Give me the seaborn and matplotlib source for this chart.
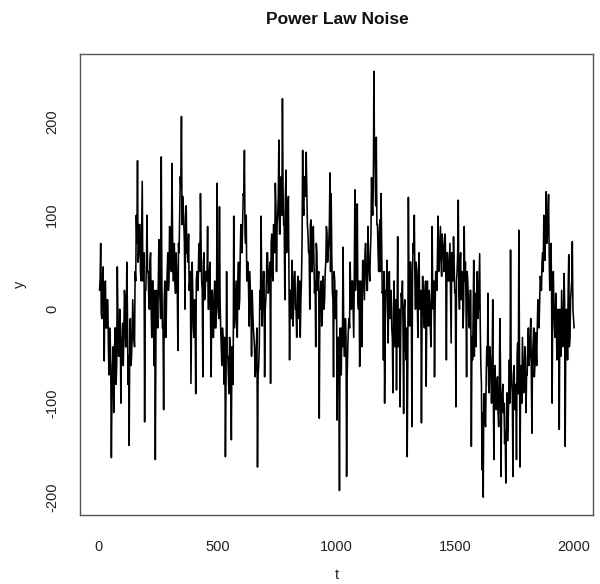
import numpy as np
import pandas as pd
import matplotlib
matplotlib.use("Agg")
import matplotlib.pyplot as plt
import seaborn as sns

# ---- data ----
# "values": readings every 5 time steps (incl. the spikes),
# "core": readings of the dense core band, half-way between them.
step = 5
values = [
    20, 70, -10, 45, -55, 30, -20, 10, -70, -30,
    -158, -60, -110, -20, -80, 45, -50, 0, -100, -30,
    -60, 20, -40, 50, -80, -145, -10, -50, 10, -30,
    40, 100, 158, 60, 90, 30, 136, 50, -120, 20,
    100, 40, 0, 60, -30, 30, -60, -160, 20, -20,
    74, 10, 162, -20, -107, 30, -30, 40, 20, 88,
    50, 155, 30, 70, 17, 40, -44, 60, 141, 205,
    120, 90, 0, 110, 60, 80, 30, -79, 50, -20,
    10, -90, 40, 20, 70, 123, 30, -72, 60, 20,
    40, 88, 0, 50, -72, 20, -30, 30, -20, 134,
    0, 109, -20, -60, -30, -80, -157, 40, -50, -90,
    -40, -139, -70, 99, -10, 30, -30, 50, 10, 90,
    60, 123, 169, 70, 30, 50, -18, 20, -50, 0,
    -30, -72, -40, -168, -60, 20, 99, -18, 40, -72,
    10, 60, 17, 40, -79, 80, 30, 88, 134, 40,
    100, 180, 80, 141, 224, 90, 10, 148, 70, 120,
    -54, 20, 52, -18, 40, 0, -30, 35, 10, -30,
    30, 169, 100, 141, 167, 90, 60, 0, 95, 40,
    88, 17, -40, 60, 30, -116, 20, -18, 35, 0,
    40, 88, 50, 70, 145, 123, 20, -72, 30, 0,
    -118, -30, -193, -60, -20, 66, -50, -10, -178, -40,
    -10, 50, 0, 30, -30, 127, 40, 112, 0, -61,
    30, -40, 52, 10, 70, 20, 88, 40, 60, 140,
    100, 253, 160, 183, 90, 40, 95, 123, 17, -54,
    -100, 20, 52, -36, 40, 0, -20, -89, 30, -10,
    -86, 77, -20, -104, 17, 30, -111, 10, -54, -157,
    119, -18, 50, -125, 70, 100, 0, 40, -30, 60,
    10, -121, 35, -10, 20, -82, 30, -18, 10, -40,
    88, 0, -72, 40, 20, 99, 50, 88, 35, 70,
    40, 80, -54, 60, 30, 70, -36, 50, 77, 17,
    -104, 40, 116, 0, 60, 20, -20, 88, 50, -72,
    30, -18, 20, -146, -54, 52, 17, -40, 40, 0,
    59, -60, -171, -200, -90, -125, -40, 17, -89, -50,
    -100, 10, -160, -60, -107, -72, -125, -10, -178, -90,
    -110, -143, -185, -89, -120, -54, 63, -80, -178, -60,
    -107, -160, -36, 84, -168, -60, -30, -89, -40, -110,
    -70, -20, -50, -10, -132, -36, -72, -25, -60, 10,
    -20, 35, 20, 60, 100, 52, 125, 80, 122, 20,
    70, -100, 40, -20, 17, -54, 0, -128, -30, 20,
    -40, 38, -146, 0, -54, 58, -30, 20, 72, -10,
]
core = [
    30, -5, 35, 0, 25, -20, 10, -40, -20, -60,
    -90, -40, -70, -20, -60, -10, -50, -20, -45, -15,
    -30, 10, -40, 0, -50, -20, -60, -30, -10, -40,
    30, 70, 50, 90, 40, 80, 30, 60, 20, 50,
    40, 10, 50, 0, 30, -20, 20, -30, 10, 30,
    20, -10, 30, -20, 10, -30, 20, 60, 30, 80,
    40, 80, 50, 30, 60, 20, 70, 100, 130, 90,
    110, 70, 100, 60, 50, 20, 40, -10, 20, -30,
    -10, 30, 20, 60, 40, 70, 20, 50, 10, 40,
    30, 0, 40, -10, 20, -30, 10, -20, 0, 20,
    -10, 10, -40, -20, -60, -30, -80, -50, -70, -30,
    -70, -40, -80, -20, 10, -20, 30, 0, 60, 80,
    90, 120, 80, 100, 50, 20, 40, 0, 20, -20,
    -40, -60, -20, -70, -40, 0, 30, 10, 40, 0,
    30, 60, 20, 50, 70, 40, 90, 60, 110, 90,
    120, 80, 140, 100, 130, 90, 120, 60, 100, 40,
    20, -10, 30, 10, 40, 0, 20, -10, 30, 10,
    70, 110, 140, 120, 130, 80, 60, 90, 40, 70,
    50, 30, 70, 20, 40, 0, 30, -10, 20, 10,
    50, 80, 60, 90, 40, 60, 10, 40, -10, 20,
    -30, -60, -20, -70, -40, -10, -50, -30, -70, -20,
    -20, 10, 30, 0, 40, 20, 50, 10, 30, -10,
    20, 50, 30, 60, 40, 20, 50, 30, 80, 110,
    130, 160, 110, 90, 60, 80, 40, 70, 20, 40,
    -20, 20, 0, 30, -10, 20, -30, 0, -40, 10,
    -10, -40, 0, -30, 10, -20, 0, -40, -20, -60,
    20, 50, 0, 40, 60, 30, 50, 10, 40, 0,
    20, -10, 10, -20, 30, 0, -10, 20, -20, 10,
    10, 30, 0, 40, 60, 40, 70, 50, 80, 60,
    70, 40, 60, 30, 50, 20, 60, 30, 50, 20,
    30, 60, 20, 50, 10, 40, 0, 30, 10, 40,
    10, -20, 20, -30, -10, -50, 0, 20, -10, 30,
    -20, -80, -110, -90, -120, -70, -60, -80, -40, -70,
    -60, -90, -70, -100, -80, -110, -90, -60, -100, -80,
    -100, -130, -110, -140, -90, -100, -60, -90, -70, -100,
    -80, -50, -90, -40, -70, -100, -60, -80, -50, -70,
    -40, -60, -30, -70, -50, -20, -60, -40, -20, -10,
    10, 30, 50, 40, 70, 90, 70, 100, 60, 40,
    30, 10, 0, -30, -10, -40, -20, 0, -50, -10,
    -20, 10, -30, -10, 20, -40, 10, 30, 0, -20,
]
x_ticks = [0, 500, 1000, 1500, 2000]
y_ticks = [-200, -100, 0, 100, 200]
title = "Power Law Noise"
x_label = "t"
y_label = "y"

t_values = np.arange(len(values)) * step + 3
t_core = np.arange(len(core)) * step + 5.5
df = pd.DataFrame({"t": np.concatenate([t_values, t_core]),
                   "y": np.concatenate([values, core])})
df = df.sort_values("t").reset_index(drop=True)

# ---- figure ----
sns.set_style("white")
plt.rcParams["font.family"] = ["Liberation Sans", "DejaVu Sans"]

W, H = 600, 584
fig = plt.figure(figsize=(W / 100, H / 100), dpi=100)
ax = fig.add_axes([80 / W, 69 / H, 513 / W, 461 / H])

sns.lineplot(data=df, x="t", y="y", color="black", linewidth=1.15,
             errorbar=None, ax=ax)

ax.set_xlim(-79, 2080)
ax.set_ylim(-219, 271.5)
ax.set_xticks(x_ticks)
ax.set_yticks(y_ticks)
ax.set_xticklabels([str(v) for v in x_ticks])
ax.set_yticklabels([str(v) for v in y_ticks], rotation=90, va="center")

axis_col = "#555555"
for s in ax.spines.values():
    s.set_visible(True)
    s.set_color(axis_col)
    s.set_linewidth(1.0)
ax.tick_params(axis="both", direction="out", length=5, width=1.0,
               color=axis_col, labelcolor="#222222", labelsize=10.5)
ax.tick_params(axis="x", pad=13)
ax.tick_params(axis="y", pad=10)

ax.set_xlabel(x_label, fontsize=10.5, color="#222222")
ax.set_ylabel(y_label, fontsize=10.5, color="#222222")
ax.xaxis.set_label_coords(0.5, -0.13)
ax.xaxis.label.set_verticalalignment("center")
ax.yaxis.set_label_coords(-0.117, 0.5)
ax.yaxis.label.set_verticalalignment("center")

fig.text(337 / W, 1 - 20 / H, title, ha="center", va="center",
         fontsize=12.5, fontweight="bold", color="#111111")

fig.savefig("out.png", dpi=100)
